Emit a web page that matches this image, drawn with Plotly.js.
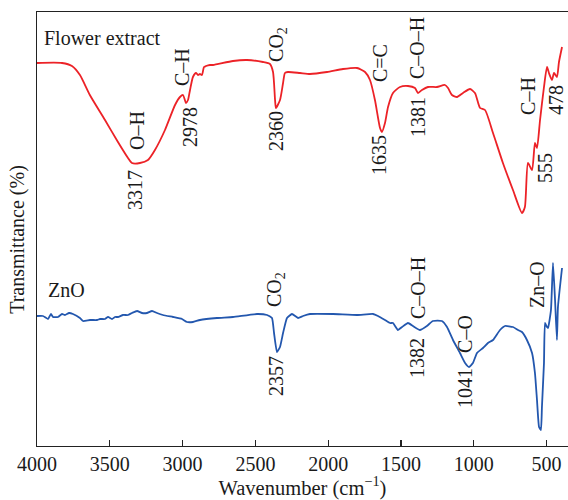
<!DOCTYPE html>
<html>
<head>
<meta charset="utf-8">
<script src="https://cdn.plot.ly/plotly-3.0.1.min.js"></script>
<style>html,body{margin:0;padding:0;background:#fff;}#chart{width:568px;height:500px;}</style>
</head>
<body>
<div id="chart"></div>
<script>
// Flower extract spectrum (wavenumber, cm^-1) and transmittance (arbitrary units)
const flowerWn = [4000,3828,3760,3705,3637,3533,3444,3375,3348,3293,3238,3190,3121,3052,3018,2997,2977,2963,2949,2929,2908,2894,2881,2867,2853,2839,2812,2791,2654,2558,2448,2400,2379,2365,2359,2331,2310,2297,2276,2194,2125,2008,1898,1802,1747,1713,1679,1644,1631,1610,1589,1555,1507,1452,1404,1383,1356,1315,1253,1198,1177,1150,1115,1074,1026,992,957,923,868,800,731,669,649,628,600,580,566,545,518,497,484,463,449,429,415,394];
const flowerT = [383,383,380,371,351,326,304,288,283,283,286,296,316,341,349,351,343,346,356,369,373,371,372,371,379,380,381,381,385,386,384,382,374,346,338,346,363,373,374,373,372,374,377,378,374,366,346,318,314,323,339,353,359,360,358,353,356,359,359,361,358,351,349,353,357,353,338,336,313,283,256,233,239,283,276,303,298,326,359,379,373,366,373,369,384,399];

// ZnO spectrum
const znoWn = [4000,3959,3924,3904,3890,3856,3828,3808,3780,3753,3705,3684,3636,3588,3567,3533,3512,3485,3464,3444,3409,3375,3348,3313,3279,3245,3210,3176,3135,3066,3004,2970,2929,2881,2764,2654,2489,2420,2386,2372,2352,2331,2310,2283,2249,2207,2173,2125,1967,1802,1692,1658,1610,1576,1555,1521,1493,1452,1418,1370,1322,1281,1219,1184,1143,1095,1060,1033,1006,978,937,903,868,820,786,731,696,669,635,600,580,566,552,539,532,518,511,497,490,470,456,442,429,422,394];
const znoT = [130,130,127,132,129,129,132,131,133,132,128,125,126,126,127,127,129,127,129,129,131,131,133,135,133,133,135,133,131,129,127,124,124,126,128,129,132,131,128,113,94,99,113,128,132,128,130,132,132,131,132,130,126,123,123,116,119,123,120,116,120,125,125,119,106,93,83,79,83,93,98,103,106,116,120,119,116,114,106,93,73,46,19,16,39,83,123,119,118,136,183,146,106,139,178];

// Peak labels: [text, wavenumber, T position]
const flowerLabels = [
  ["O–H", 3313, 315], ["3317", 3327, 256],
  ["C–H", 3004, 379], ["2978", 2949, 319],
  ["CO<sub>2</sub>", 2352, 402], ["2360", 2359, 315],
  ["C=C", 1644, 383], ["1635", 1651, 291],
  ["C–O–H", 1390, 398], ["1381", 1383, 329],
  ["C–H", 628, 350], ["555", 511, 278], ["478", 436, 346]
];
const znoLabels = [
  ["CO<sub>2</sub>", 2365, 156], ["2357", 2359, 70],
  ["C–O–H", 1383, 158], ["1382", 1390, 88],
  ["C–O", 1061, 112], ["1041", 1061, 58],
  ["Zn–O", 566, 162]
];
const seriesNames = ["Flower extract", "ZnO"];
const xTicks = [4000,3500,3000,2500,2000,1500,1000,500];
const xTitle = "Wavenumber (cm<sup>−1</sup>)";
const yTitle = "Transmittance (%)";

const FONT = "Liberation Serif, Times New Roman, serif";
const TXT = "#1a1a1a";

const traces = [
  {x: flowerWn, y: flowerT, type: "scatter", mode: "lines", name: seriesNames[0],
   line: {color: "#ec2227", width: 1.8, shape: "spline", smoothing: 0.6}},
  {x: znoWn, y: znoT, type: "scatter", mode: "lines", name: seriesNames[1],
   line: {color: "#2357ae", width: 1.8, shape: "spline", smoothing: 0.4}}
];

const annotations = [];
flowerLabels.concat(znoLabels).forEach(l => {
  annotations.push({text: l[0], x: l[1], y: l[2], xref: "x", yref: "y", showarrow: false,
    textangle: -90, xanchor: "center", yanchor: "middle",
    font: {family: FONT, size: 20, color: TXT}});
});
annotations.push({text: seriesNames[0], x: 3966, y: 408, xref: "x", yref: "y", showarrow: false,
  xanchor: "left", yanchor: "middle", font: {family: FONT, size: 20, color: TXT}});
annotations.push({text: seriesNames[1], x: 3938, y: 156, xref: "x", yref: "y", showarrow: false,
  xanchor: "left", yanchor: "middle", font: {family: FONT, size: 20, color: TXT}});
// y-axis title placed as rotated text left of the axis
annotations.push({text: yTitle, x: -0.036, y: 0.477, xref: "paper", yref: "paper", showarrow: false,
  textangle: -90, xanchor: "center", yanchor: "middle", font: {family: FONT, size: 20, color: TXT}});

const layout = {
  width: 568, height: 500,
  margin: {l: 37, r: 0, t: 12, b: 54},
  paper_bgcolor: "#fff", plot_bgcolor: "#fff",
  showlegend: false,
  font: {family: FONT, size: 20, color: TXT},
  xaxis: {
    range: [4000, 353], tickvals: xTicks, ticktext: xTicks.map(String),
    ticks: "inside", ticklen: 6, tickcolor: "#222", tickwidth: 1.2,
    showline: true, linecolor: "#222", linewidth: 1.3, mirror: true,
    showgrid: false, zeroline: false,
    tickfont: {family: FONT, size: 20, color: TXT},
    title: {text: xTitle, standoff: 6, font: {family: FONT, size: 20.5, color: TXT}}
  },
  yaxis: {
    range: [0, 434], showticklabels: false, ticks: "",
    showline: true, linecolor: "#222", linewidth: 1.3, mirror: false,
    showgrid: false, zeroline: false
  },
  annotations: annotations
};

Plotly.newPlot("chart", traces, layout, {staticPlot: true, displayModeBar: false});
</script>
</body>
</html>
